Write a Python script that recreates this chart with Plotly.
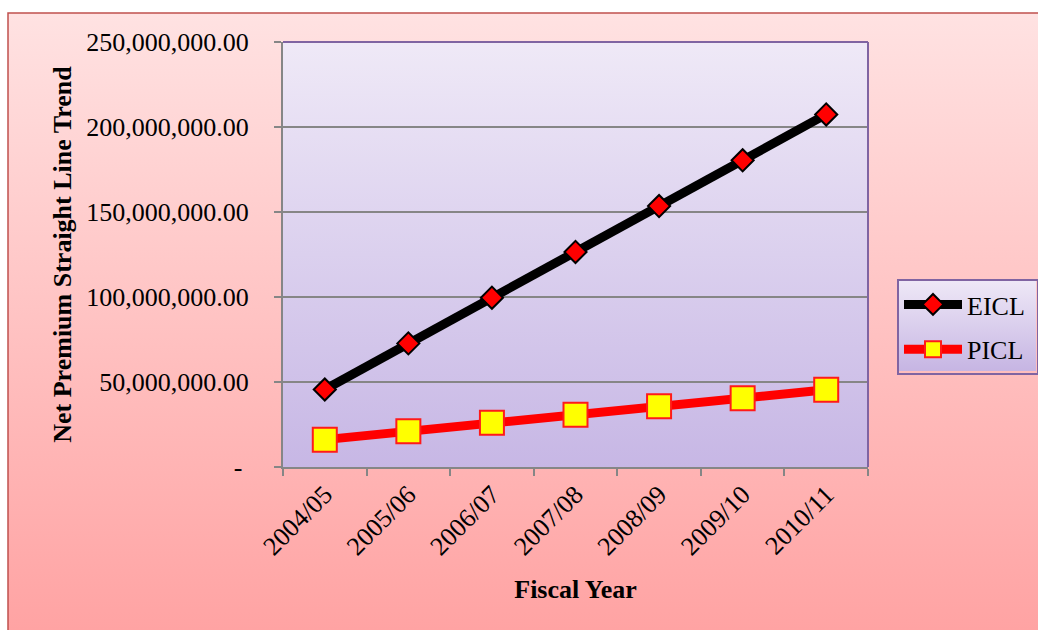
import base64
import plotly.graph_objects as go

# Fiscal years and net premium straight-line trend values
years = ["2004/05", "2005/06", "2006/07", "2007/08", "2008/09", "2009/10", "2010/11"]
eicl = [45.6e6, 72.7e6, 99.6e6, 126.5e6, 153.5e6, 180.4e6, 207.4e6]
picl = [16.1e6, 21.1e6, 26.0e6, 30.8e6, 35.7e6, 40.4e6, 45.4e6]

y_ticks = [0, 50e6, 100e6, 150e6, 200e6, 250e6]
y_tick_text = ["-\u00a0"] + [f"{v:,.2f}" for v in y_ticks[1:]]

W, H = 1038, 630
# plot area in pixels
PL, PR, PT, PB = 283, 868, 42, 467
PW, PH = PR - PL, PB - PT

SERIF = "Liberation Serif, Times New Roman, serif"
GRID = "#868686"
PURPLE = "#8064A2"


def px_x(x):
    return (x - PL) / PW


def px_y(y):
    return (PB - y) / PH


def gradient(top, bottom):
    svg = (
        '<svg xmlns="http://www.w3.org/2000/svg" width="10" height="100" '
        'viewBox="0 0 10 100" preserveAspectRatio="none">'
        '<defs><linearGradient id="g" x1="0" y1="0" x2="0" y2="1">'
        f'<stop offset="0" stop-color="{top}"/><stop offset="1" stop-color="{bottom}"/>'
        '</linearGradient></defs><rect width="10" height="100" fill="url(#g)"/></svg>'
    )
    return "data:image/svg+xml;base64," + base64.b64encode(svg.encode()).decode()


def panel(x0, y0, x1, y1, top, bottom):
    return dict(
        source=gradient(top, bottom), xref="paper", yref="paper",
        x=px_x(x0), y=px_y(y0), sizex=(x1 - x0) / PW, sizey=(y1 - y0) / PH,
        xanchor="left", yanchor="top", sizing="stretch", layer="below",
    )


fig = go.Figure()
fig.add_trace(go.Scatter(
    x=years, y=eicl, name="EICL\u00a0", mode="lines+markers", legendgroup="a",
    line=dict(color="black", width=9),
    marker=dict(symbol="diamond", size=17, color="#FF0000", line=dict(color="black", width=2)),
))
fig.add_trace(go.Scatter(
    x=years, y=picl, name="PICL\u00a0", mode="lines+markers", legendgroup="b",
    line=dict(color="#FF0000", width=9),
    marker=dict(symbol="square", size=24, color="#FFFF00", line=dict(color="#FF1A1A", width=2)),
))

LEG = (897, 279, 1036, 371)

fig.update_layout(
    width=W, height=H,
    margin=dict(l=PL, r=W - PR, t=PT, b=H - PB, autoexpand=False),
    paper_bgcolor="white",
    plot_bgcolor="rgba(0,0,0,0)",
    font=dict(family=SERIF, size=26, color="black"),
    images=[
        panel(8, 13, 1045, 640, "#FFE2E2", "#FFA2A2"),
        panel(PL, PT, PR, PB, "#EFE9F7", "#C7B7E5"),
        panel(*LEG, "#EFE9F7", "#C6B5E3"),
    ],
    shapes=[
        dict(type="rect", xref="paper", yref="paper", x0=px_x(8), y0=px_y(13),
             x1=px_x(1060), y1=px_y(660), line=dict(color="#C0504D", width=1.5), layer="below"),
        dict(type="line", xref="paper", yref="paper", x0=0, x1=1, y0=1, y1=1,
             line=dict(color=PURPLE, width=2), layer="above"),
        dict(type="line", xref="paper", yref="paper", x0=1, x1=1, y0=0, y1=1,
             line=dict(color=PURPLE, width=2), layer="above"),
    ],
    xaxis=dict(
        type="category", categoryorder="array", categoryarray=years,
        range=[-0.5, len(years) - 0.5], tickson="boundaries",
        ticks="outside", ticklen=7, tickcolor=GRID, tickwidth=2,
        showline=True, linecolor=GRID, linewidth=2, showgrid=False,
        tickangle=-45, tickfont=dict(size=26),
        title=dict(text="<b>Fiscal Year</b>", font=dict(size=26), standoff=20),
    ),
    yaxis=dict(
        range=[0, 250e6], tickvals=y_ticks, ticktext=y_tick_text,
        ticks="outside", ticklen=7, tickcolor=GRID, tickwidth=2,
        showline=True, linecolor=GRID, linewidth=2,
        showgrid=True, gridcolor=GRID, gridwidth=1.5, zeroline=False,
        ticklabelstandoff=20, tickfont=dict(size=26),
        title=dict(text="<b>Net Premium Straight Line Trend</b>", font=dict(size=26), standoff=7),
    ),
    legend=dict(
        x=px_x(LEG[0]), y=px_y(LEG[1]), xanchor="left", yanchor="top",
        bgcolor="rgba(0,0,0,0)", bordercolor=PURPLE, borderwidth=2,
        font=dict(size=26), traceorder="grouped", tracegroupgap=8, itemwidth=58,
    ),
)

fig.write_html("out.html")
